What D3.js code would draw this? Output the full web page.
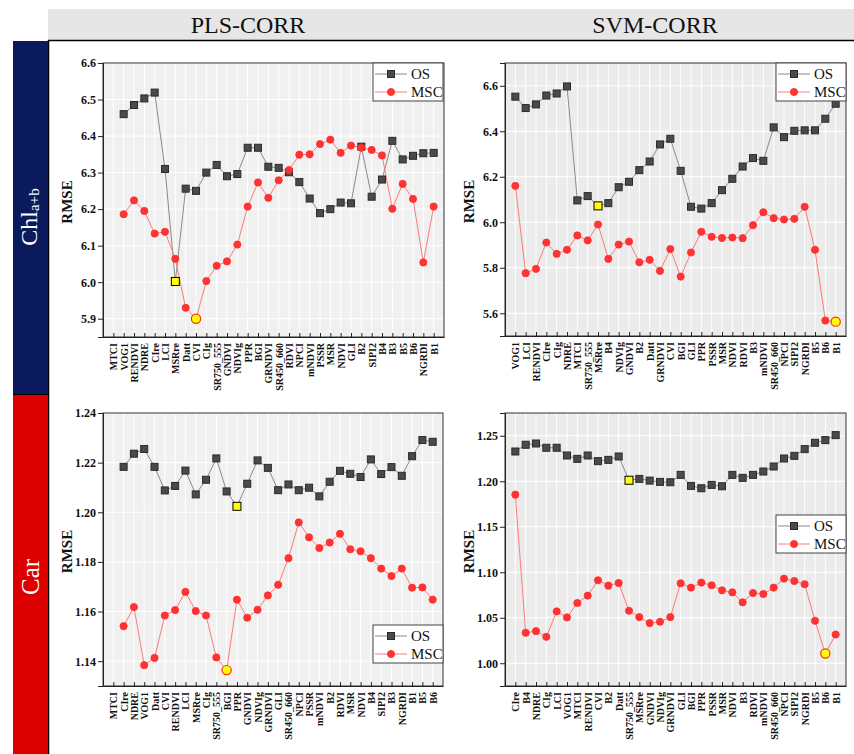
<!DOCTYPE html>
<html>
<head>
<meta charset="utf-8">
<script src="https://cdn.jsdelivr.net/npm/d3@7"></script>
<style>
  html, body { margin: 0; padding: 0; background: #fff; }
  svg { display: block; }
</style>
</head>
<body>
<script>
// ---- Chl a+b, PLS-CORR ----
const plsChlCats = ["MTCI","VOG1","RENDVI","NDRE","CIre","LCI","MSRre","Datt","CVI","CIg","SR750_555","GNDVI","NDVIg","PPR","BGI","GRNDVI","SR450_660","RDVI","NPCI","mNDVI","PSSR","MSR","NDVI","GLI","B2","SIPI2","B4","B3","B5","B6","NGRDI","B1"];
const plsChlOS  = [null,6.460,6.485,6.503,6.519,6.310,6.002,6.256,6.250,6.300,6.321,6.290,6.296,6.368,6.368,6.316,6.313,6.301,6.274,6.229,6.189,6.200,6.218,6.216,6.371,6.234,6.281,6.387,6.336,6.346,6.353,6.354];
const plsChlMSC = [null,6.186,6.224,6.195,6.133,6.138,6.064,5.930,5.900,6.003,6.045,6.057,6.103,6.207,6.273,6.231,6.279,6.307,6.349,6.350,6.378,6.390,6.354,6.374,6.368,6.362,6.347,6.201,6.269,6.228,6.054,6.207];
const plsChlBest = ["MSRre", "CVI"];

// ---- Chl a+b, SVM-CORR ----
const svmChlCats = ["VOG1","LCI","RENDVI","CIre","CIg","NDRE","MTCI","SR750_555","MSRre","B4","NDVIg","GNDVI","B2","Datt","GRNDVI","CVI","BGI","GLI","PPR","PSSR","MSR","NDVI","RDVI","B3","mNDVI","SR450_660","NPCI","SIPI2","NGRDI","B5","B6","B1"];
const svmChlOS  = [6.552,6.502,6.518,6.557,6.566,6.597,6.096,6.115,6.072,6.084,6.154,6.178,6.229,6.267,6.342,6.367,6.226,6.068,6.060,6.084,6.141,6.191,6.245,6.282,6.270,6.417,6.374,6.402,6.404,6.404,6.455,6.521];
const svmChlMSC = [6.160,5.776,5.795,5.911,5.861,5.879,5.942,5.920,5.990,5.839,5.902,5.915,5.824,5.835,5.786,5.882,5.761,5.867,5.958,5.936,5.931,5.933,5.930,5.987,6.044,6.018,6.012,6.015,6.068,5.879,5.568,5.563];
const svmChlBest = ["MSRre", "B1"];

// ---- Car, PLS-CORR ----
const plsCarCats = ["MTCI","CIre","NDRE","VOG1","Datt","CVI","RENDVI","LCI","MSRre","CIg","SR750_555","BGI","PPR","GNDVI","NDVIg","GRNDVI","GLI","SR450_660","NPCI","PSSR","mNDVI","B2","RDVI","MSR","NDVI","B4","SIPI2","B3","NGRDI","B1","B5","B6"];
const plsCarOS  = [null,1.2183,1.2236,1.2255,1.2183,1.2088,1.2106,1.2168,1.2072,1.2131,1.2217,1.2084,1.2024,1.2115,1.2209,1.2179,1.2089,1.2112,1.2089,1.2099,1.2064,1.2123,1.2167,1.2155,1.2142,1.2213,1.2154,1.2182,1.2147,1.2226,1.2291,1.2284];
const plsCarMSC = [null,1.1541,1.1618,1.1384,1.1413,1.1584,1.1606,1.1679,1.1602,1.1584,1.1415,1.1364,1.1648,1.1575,1.1607,1.1665,1.1708,1.1815,1.1959,1.1899,1.1856,1.1878,1.1913,1.1851,1.1843,1.1815,1.1773,1.1743,1.1773,1.1696,1.1697,1.1648];
const plsCarBest = ["PPR", "BGI"];

// ---- Car, SVM-CORR ----
const svmCarCats = ["CIre","B4","NDRE","CIg","LCI","VOG1","MTCI","RENDVI","CVI","B2","Datt","SR750_555","MSRre","GNDVI","NDVIg","GRNDVI","GLI","BGI","PPR","PSSR","MSR","NDVI","B3","RDVI","mNDVI","SR450_660","NPCI","SIPI2","NGRDI","B5","B6","B1"];
const svmCarOS  = [1.2327,1.2401,1.2415,1.2368,1.2368,1.2283,1.2246,1.2283,1.2221,1.2235,1.2272,1.2011,1.2026,1.2007,1.1993,1.1989,1.2070,1.1949,1.1923,1.1960,1.1945,1.2070,1.2037,1.2070,1.2107,1.2162,1.2250,1.2279,1.2353,1.2423,1.2452,1.2507];
const svmCarMSC = [1.1853,1.0335,1.0353,1.0290,1.0570,1.0504,1.0662,1.0743,1.0912,1.0853,1.0882,1.0577,1.0507,1.0441,1.0456,1.0507,1.0879,1.0831,1.0886,1.0857,1.0801,1.0779,1.0669,1.0772,1.0761,1.0831,1.0930,1.0904,1.0868,1.0467,1.0107,1.0316];
const svmCarBest = ["SR750_555", "B6"];

// Axis ranges and tick values
const plsChlTicks = [5.9,6.0,6.1,6.2,6.3,6.4,6.5,6.6];
const svmChlTicks = [5.6,5.8,6.0,6.2,6.4,6.6];
const plsCarTicks = [1.14,1.16,1.18,1.20,1.22,1.24];
const svmCarTicks = [1.00,1.05,1.10,1.15,1.20,1.25];

const columnTitles = ["PLS-CORR", "SVM-CORR"];
const rowTitles = [["Chl", "a+b"], ["Car", ""]];
const seriesNames = ["OS", "MSC"];

const W = 854, H = 754;
const SERIF = "'Liberation Serif', 'Times New Roman', serif";

const svg = d3.select("body").append("svg")
  .attr("width", W).attr("height", H)
  .attr("font-family", SERIF);

// Header band and frame
svg.append("rect").attr("x", 48).attr("y", 9).attr("width", W - 48).attr("height", 31).attr("fill", "#e6e6e6");
svg.append("line").attr("x1", 48).attr("x2", W).attr("y1", 40.5).attr("y2", 40.5).attr("stroke", "#000").attr("stroke-width", 1.5);
svg.append("line").attr("x1", 48.5).attr("x2", 48.5).attr("y1", 40).attr("y2", H).attr("stroke", "#000").attr("stroke-width", 1.5);

// Row strips
svg.append("rect").attr("x", 13).attr("y", 41).attr("width", 35).attr("height", 353.5).attr("fill", "#0a1a5c");
svg.append("rect").attr("x", 13).attr("y", 395).attr("width", 35).attr("height", H - 395).attr("fill", "#dd0000");
svg.append("line").attr("x1", 13).attr("x2", 48).attr("y1", 394.5).attr("y2", 394.5).attr("stroke", "#000").attr("stroke-width", 1);

const chlLabel = svg.append("text")
  .attr("transform", "translate(37,217) rotate(-90)")
  .attr("text-anchor", "middle").attr("fill", "#fff").attr("font-size", 24);
chlLabel.append("tspan").text(rowTitles[0][0]);
chlLabel.append("tspan").attr("font-size", 15).attr("dy", 2).text(rowTitles[0][1]);

svg.append("text")
  .attr("transform", "translate(39,577) rotate(-90)")
  .attr("text-anchor", "middle").attr("fill", "#fff").attr("font-size", 25)
  .text(rowTitles[1][0]);

svg.selectAll(".coltitle").data(columnTitles).join("text")
  .attr("x", (d, i) => [248, 655][i]).attr("y", 33)
  .attr("text-anchor", "middle").attr("font-size", 24).attr("fill", "#111")
  .text(d => d);

const panels = [
  { cats: plsChlCats, os: plsChlOS, msc: plsChlMSC, best: plsChlBest, ticks: plsChlTicks, dom: [5.85, 6.6],  fmt: ".1f", x0: 103, y0: 63,  w: 341, h: 274, bg: "#f0f0f0", legend: [373, 63] },
  { cats: svmChlCats, os: svmChlOS, msc: svmChlMSC, best: svmChlBest, ticks: svmChlTicks, dom: [5.5, 6.7],   fmt: ".1f", x0: 505, y0: 63,  w: 341, h: 273, bg: "#ebebeb", legend: [776, 63] },
  { cats: plsCarCats, os: plsCarOS, msc: plsCarMSC, best: plsCarBest, ticks: plsCarTicks, dom: [1.13, 1.24], fmt: ".2f", x0: 103, y0: 413, w: 340, h: 273, bg: "#f0f0f0", legend: [373, 625] },
  { cats: svmCarCats, os: svmCarOS, msc: svmCarMSC, best: svmCarBest, ticks: svmCarTicks, dom: [0.975, 1.275], fmt: ".2f", x0: 505, y0: 413, w: 341, h: 273, bg: "#ebebeb", legend: [776, 515] }
];

const OS_LINE = "#8a8a8a", OS_FILL = "#4a4a4a", OS_STROKE = "#2a2a2a";
const MSC_LINE = "#ff7a7a", MSC_FILL = "#ff3333", MSC_STROKE = "#ff2a2a";
const HILITE = "#ffff00";

function drawSquare(g, cx, cy, s, fill, stroke, sw) {
  g.append("rect").attr("x", cx - s / 2).attr("y", cy - s / 2)
    .attr("width", s).attr("height", s)
    .attr("fill", fill).attr("stroke", stroke).attr("stroke-width", sw);
}

panels.forEach(p => {
  const g = svg.append("g").attr("transform", `translate(${p.x0},${p.y0})`);
  const x = d3.scalePoint().domain(p.cats).range([0, p.w]).padding(1);
  const y = d3.scaleLinear().domain(p.dom).range([p.h, 0]);

  g.append("rect").attr("width", p.w).attr("height", p.h).attr("fill", p.bg);

  // white grid
  g.append("g").selectAll("line").data(p.cats).join("line")
    .attr("x1", d => x(d)).attr("x2", d => x(d)).attr("y1", 0).attr("y2", p.h)
    .attr("stroke", "#fff").attr("stroke-width", 1);
  g.append("g").selectAll("line").data(p.ticks).join("line")
    .attr("x1", 0).attr("x2", p.w).attr("y1", d => y(d)).attr("y2", d => y(d))
    .attr("stroke", "#fff").attr("stroke-width", 1);

  // frame
  g.append("rect").attr("width", p.w).attr("height", p.h)
    .attr("fill", "none").attr("stroke", "#333").attr("stroke-width", 1);

  // y axis
  const ya = g.append("g").call(d3.axisLeft(y).tickValues(p.ticks).tickFormat(d3.format(p.fmt)).tickSize(5).tickPadding(2));
  ya.select(".domain").attr("stroke", "#222");
  ya.selectAll(".tick line").attr("stroke", "#222");
  ya.selectAll("text").attr("font-family", SERIF).attr("font-weight", "bold").attr("font-size", 12).attr("fill", "#111");

  // x axis with inward ticks and vertical labels
  const xa = g.append("g").attr("transform", `translate(0,${p.h})`)
    .call(d3.axisBottom(x).tickSizeInner(-4).tickSizeOuter(0).tickPadding(0));
  xa.select(".domain").attr("stroke", "#222");
  xa.selectAll(".tick line").attr("stroke", "#222");
  xa.selectAll("text")
    .attr("font-family", SERIF).attr("font-weight", "bold").attr("font-size", 10).attr("fill", "#111")
    .attr("text-anchor", "end").attr("dy", null).attr("y", 0)
    .attr("transform", "translate(3.5,6) rotate(-90)");

  // y label
  g.append("text")
    .attr("transform", `translate(${-31},${p.h / 2 + 2}) rotate(-90)`)
    .attr("text-anchor", "middle").attr("font-weight", "bold").attr("font-size", 15).attr("fill", "#111")
    .text("RMSE");

  const osPts = p.cats.map((c, i) => ({ c, v: p.os[i] })).filter(d => d.v != null);
  const mscPts = p.cats.map((c, i) => ({ c, v: p.msc[i] })).filter(d => d.v != null);
  const line = d3.line().x(d => x(d.c)).y(d => y(d.v));

  g.append("path").attr("d", line(osPts)).attr("fill", "none").attr("stroke", OS_LINE).attr("stroke-width", 1);
  g.append("path").attr("d", line(mscPts)).attr("fill", "none").attr("stroke", MSC_LINE).attr("stroke-width", 1);

  osPts.forEach(d => {
    const hi = d.c === p.best[0];
    drawSquare(g, x(d.c), y(d.v), hi ? 8 : 7, hi ? HILITE : OS_FILL, hi ? "#000" : OS_STROKE, 1);
  });
  mscPts.forEach(d => {
    const hi = d.c === p.best[1];
    g.append("circle").attr("cx", x(d.c)).attr("cy", y(d.v)).attr("r", hi ? 4.6 : 3.6)
      .attr("fill", hi ? HILITE : MSC_FILL).attr("stroke", hi ? "#ff3000" : MSC_STROKE).attr("stroke-width", hi ? 1.2 : 0.8);
  });

  // legend
  const lg = svg.append("g").attr("transform", `translate(${p.legend[0]},${p.legend[1]})`);
  lg.append("rect").attr("width", 70).attr("height", 38).attr("fill", "#fff").attr("stroke", "#444").attr("stroke-width", 1);
  seriesNames.forEach((name, i) => {
    const yy = 11 + i * 18;
    lg.append("line").attr("x1", 2).attr("x2", 34).attr("y1", yy).attr("y2", yy)
      .attr("stroke", i === 0 ? OS_LINE : MSC_LINE).attr("stroke-width", 1);
    if (i === 0) drawSquare(lg, 18, yy, 7, OS_FILL, OS_STROKE, 1);
    else lg.append("circle").attr("cx", 18).attr("cy", yy).attr("r", 3.6).attr("fill", MSC_FILL).attr("stroke", MSC_STROKE).attr("stroke-width", 0.8);
    lg.append("text").attr("x", 38).attr("y", yy + 5).attr("font-size", 15).attr("fill", "#111").text(name);
  });
});
</script>
</body>
</html>
